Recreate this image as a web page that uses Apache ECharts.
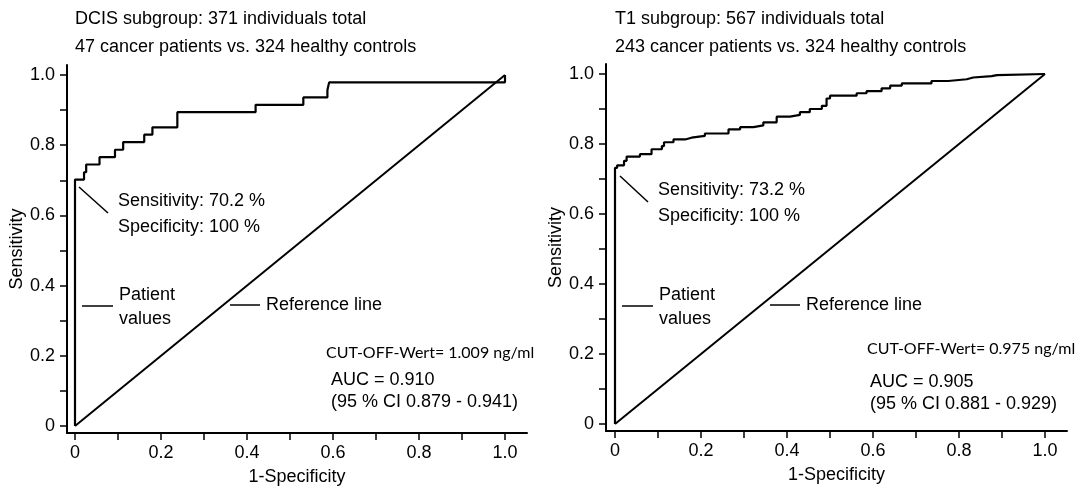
<!DOCTYPE html>
<html>
<head>
<meta charset="utf-8">
<script src="https://cdn.jsdelivr.net/npm/echarts@6/dist/echarts.min.js"></script>
<style>
  html, body { margin: 0; padding: 0; background: #fff; }
  #chart { width: 1083px; height: 486px; }
</style>
</head>
<body>
<div id="chart"></div>
<script>
// ROC curve of the DCIS subgroup: corner points (1 - specificity, sensitivity),
// drawn as a step line that runs across first and then rises.
const dcisFpr  = [0, 0,     0.021, 0.026, 0.057, 0.093, 0.112, 0.161, 0.180, 0.238, 0.420, 0.531, 0.587, 0.591, 1.0];
const dcisSens = [0, 0.702, 0.723, 0.745, 0.766, 0.787, 0.809, 0.830, 0.851, 0.894, 0.915, 0.936, 0.957, 0.979, 1.0];

// ROC curve of the T1 subgroup
const t1Fpr  = [0, 0,     0.005, 0.021, 0.027, 0.058, 0.085, 0.109, 0.114, 0.136, 0.163, 0.178, 0.209, 0.264, 0.291, 0.322,
                0.345, 0.376, 0.407, 0.430, 0.453, 0.481, 0.492, 0.500, 0.562, 0.585, 0.620, 0.640, 0.667, 0.736, 0.775,
                0.818, 0.833, 0.876, 0.888, 1.0];
const t1Sens = [0, 0.732, 0.739, 0.752, 0.764, 0.771, 0.785, 0.794, 0.805, 0.813, 0.818, 0.823, 0.830, 0.842, 0.848, 0.853,
                0.862, 0.878, 0.883, 0.891, 0.900, 0.909, 0.930, 0.938, 0.945, 0.951, 0.959, 0.967, 0.973, 0.980, 0.985,
                0.990, 0.994, 0.997, 1.0, 1.0];

// Chance diagonal
const refFpr  = [0, 1];
const refSens = [0, 1];

// Axis ticks and labels
const tickValues  = [0, 0.1, 0.2, 0.3, 0.4, 0.5, 0.6, 0.7, 0.8, 0.9, 1.0];
const labelValues = [0, 0.2, 0.4, 0.6, 0.8, 1.0];
const labelTexts  = ['0', '0.2', '0.4', '0.6', '0.8', '1.0'];

const SANS = '"Liberation Sans", Arial, sans-serif';
const FONT = '18px ' + SANS;
const NOTE_FONT = '16px Lato, "Open Sans", sans-serif';

function pairs(xs, ys) { return xs.map((x, i) => [x, ys[i]]); }
function labelFor(v) {
  const i = labelValues.findIndex(l => Math.abs(l - v) < 1e-9);
  return i >= 0 ? labelTexts[i] : '';
}

// Each panel's axes stand a few pixels off the plotted region, as in a classic stats plot
const grids = [
  { left: 67,  top: 65, width: 460, height: 368, yMin: -0.01994, yMax: 1.02849 },
  { left: 606, top: 64, width: 461, height: 367, yMin: -0.02,    yMax: 1.02857 }
];

const axisCommon = {
  type: 'value',
  axisLine: { show: true, onZero: false, lineStyle: { color: '#000', width: 2 } },
  axisTick: { show: true, length: 7, lineStyle: { color: '#000', width: 1.5 }, customValues: tickValues },
  axisLabel: { show: true, color: '#000', fontFamily: SANS, fontSize: 18, customValues: labelValues, formatter: labelFor },
  splitLine: { show: false },
  nameTextStyle: { color: '#000', fontFamily: SANS, fontSize: 18 }
};

const xAxes = grids.map((g, i) => Object.assign({}, axisCommon, {
  gridIndex: i, position: 'bottom',
  min: i === 0 ? -0.018605 : -0.020930, max: 1.05116,
  name: '1-Specificity', nameLocation: 'middle', nameGap: 35,
  axisLabel: Object.assign({}, axisCommon.axisLabel, { margin: 11 })
}));
const yAxes = grids.map((g, i) => Object.assign({}, axisCommon, {
  gridIndex: i, min: g.yMin, max: g.yMax, position: 'left',
  name: 'Sensitivity', nameLocation: 'middle', nameGap: 36, nameRotate: 90,
  axisLabel: Object.assign({}, axisCommon.axisLabel, { margin: 12 })
}));

function curve(i, xs, ys) {
  return {
    type: 'line', xAxisIndex: i, yAxisIndex: i, data: pairs(xs, ys),
    step: 'end', symbol: 'none', silent: true, animation: false,
    lineStyle: { color: '#000', width: 2.2 }
  };
}
function diagonal(i) {
  return {
    type: 'line', xAxisIndex: i, yAxisIndex: i, data: pairs(refFpr, refSens),
    symbol: 'none', silent: true, animation: false,
    lineStyle: { color: '#000', width: 2 }
  };
}

// Captions and call-outs of both panels
function txt(x, y, text, font) {
  return { type: 'text', x: x, y: y, silent: true,
           style: { text: text, fill: '#000', font: font || FONT, verticalAlign: 'middle', align: 'left' } };
}
function seg(x1, y1, x2, y2) {
  return { type: 'line', silent: true, shape: { x1, y1, x2, y2 }, style: { stroke: '#000', lineWidth: 1.5 } };
}

const panels = [
  { dx: 0,   title: ['DCIS subgroup: 371 individuals total', '47 cancer patients vs. 324 healthy controls'],
    sens: 'Sensitivity: 70.2 %', spec: 'Specificity: 100 %', sensY: 201, leader: [79, 187, 108, 213],
    cut: 'CUT-OFF-Wert= 1.009 ng/ml', cutX: 326, cutY: 353,
    auc: 'AUC = 0.910', ci: '(95 % CI 0.879 - 0.941)', aucX: 331, aucY: 380 },
  { dx: 540, title: ['T1 subgroup: 567 individuals total', '243 cancer patients vs. 324 healthy controls'],
    sens: 'Sensitivity: 73.2 %', spec: 'Specificity: 100 %', sensY: 190, leader: [620, 176, 648, 202],
    cut: 'CUT-OFF-Wert= 0.975 ng/ml', cutX: 867, cutY: 349,
    auc: 'AUC = 0.905', ci: '(95 % CI 0.881 - 0.929)', aucX: 870, aucY: 382 }
];

const graphics = [];
panels.forEach(p => {
  graphics.push(txt(75 + p.dx, 19, p.title[0]));
  graphics.push(txt(75 + p.dx, 47, p.title[1]));
  graphics.push(seg.apply(null, p.leader));
  graphics.push(txt(p.leader[2] + 10, p.sensY, p.sens));
  graphics.push(txt(p.leader[2] + 10, p.sensY + 26, p.spec));
  graphics.push(seg(82 + p.dx, 306, 113 + p.dx, 306));
  graphics.push(txt(119 + p.dx, 295, 'Patient'));
  graphics.push(txt(119 + p.dx, 319, 'values'));
  graphics.push(seg(230 + p.dx, 305, 260 + p.dx, 305));
  graphics.push(txt(266 + p.dx, 305, 'Reference line'));
  graphics.push(txt(p.cutX, p.cutY, p.cut, NOTE_FONT));
  graphics.push(txt(p.aucX, p.aucY, p.auc));
  graphics.push(txt(p.aucX, p.aucY + 22, p.ci));
});

const chart = echarts.init(document.getElementById('chart'), null, { renderer: 'canvas' });
chart.setOption({
  animation: false,
  backgroundColor: '#fff',
  grid: grids.map(g => ({ left: g.left, top: g.top, width: g.width, height: g.height,
                          containLabel: false, outerBoundsMode: 'none' })),
  xAxis: xAxes,
  yAxis: yAxes,
  series: [diagonal(0), curve(0, dcisFpr, dcisSens), diagonal(1), curve(1, t1Fpr, t1Sens)],
  graphic: graphics
});
</script>
</body>
</html>
